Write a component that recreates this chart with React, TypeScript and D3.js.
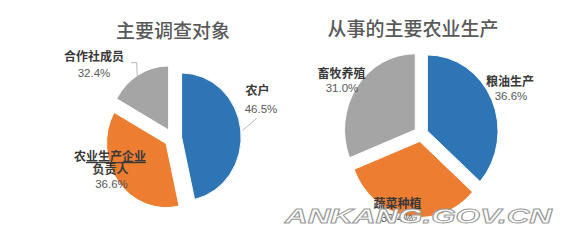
import React from 'react';
import * as d3 from 'd3';

// ---- data ----
const leftTitle = '主要调查对象';
const leftCategories = ['农户', '农业生产企业负责人', '合作社成员'];
// slice sizes as drawn in the picture (the printed labels do not sum to 100)
const leftShares = [46.5, 36.6, 16.9];
const leftLabels = ['46.5%', '36.6%', '32.4%'];

const rightTitle = '从事的主要农业生产';
const rightCategories = ['粮油生产', '蔬菜种植', '畜牧养殖'];
const rightValues = [36.6, 32.4, 31.0];
const rightLabels = ['36.6%', '32.4%', '31.0%'];

const colors = ['#2E75B6', '#ED7D31', '#A5A5A5'];
const watermark = 'ANKANG.GOV.CN';

type PieProps = {
  values: number[];
  cx: number;
  cy: number;
  r: number;
  explode: number;
  sx: number;
};

function Pie({ values, cx, cy, r, explode, sx }: PieProps) {
  const pie = d3.pie<number>().sort(null).value((d) => d).startAngle(0).endAngle(2 * Math.PI);
  const arcs = pie(values);
  const arc = d3.arc<d3.PieArcDatum<number>>().innerRadius(0).outerRadius(r);
  return (
    <g transform={`translate(${cx},${cy}) scale(${sx},1)`}>
      {arcs.map((a, i) => {
        const mid = (a.startAngle + a.endAngle) / 2;
        const dx = Math.sin(mid) * explode;
        const dy = -Math.cos(mid) * explode;
        return (
          <path
            key={i}
            d={arc(a) || ''}
            transform={`translate(${dx},${dy})`}
            fill={colors[i]}
            stroke="#fff"
            strokeWidth={1}
          />
        );
      })}
    </g>
  );
}

const catStyle: React.CSSProperties = {
  fontFamily: '"Noto Sans CJK SC", sans-serif',
  fontWeight: 700,
  fontSize: 12,
  fill: '#3a3a3a',
};
const pctStyle: React.CSSProperties = {
  fontFamily: '"Liberation Sans", Arial, sans-serif',
  fontSize: 11.5,
  fill: '#595959',
};
const titleStyle: React.CSSProperties = {
  fontFamily: '"Noto Sans CJK SC", sans-serif',
  fontWeight: 500,
  fontSize: 19,
  fill: '#595959',
};

export default function App() {
  return (
    <svg
      width={573}
      height={246}
      style={{ position: 'absolute', left: 0, top: 0, background: '#fff' }}
    >
      <rect width={573} height={246} fill="#fff" />
      {/* titles */}
      <text x={173} y={38} textAnchor="middle" style={titleStyle}>{leftTitle}</text>
      <text x={413} y={36} textAnchor="middle" style={titleStyle}>{rightTitle}</text>

      {/* left pie */}
      <Pie values={leftShares} cx={173} cy={138} r={64} explode={9.3} sx={0.93} />
      {/* leader lines */}
      <polyline points="131,62.7 136.7,62.7 137.3,78.5" fill="none" stroke="#a6a6a6" strokeWidth={0.8} />
      <line x1={256.7} y1={118.3} x2={242.3} y2={130.7} stroke="#a6a6a6" strokeWidth={0.8} />

      <text x={257.5} y={95} textAnchor="middle" style={catStyle}>{leftCategories[0]}</text>
      <text x={261} y={113} textAnchor="middle" style={pctStyle}>{leftLabels[0]}</text>

      <text x={110} y={161} textAnchor="middle" style={catStyle}>
        {leftCategories[1].slice(0, 1)}
        <tspan textDecoration="underline">{leftCategories[1].slice(1, 6)}</tspan>
      </text>
      <text x={110.5} y={174} textAnchor="middle" style={catStyle}>{leftCategories[1].slice(6)}</text>
      <text x={111.5} y={188} textAnchor="middle" style={pctStyle}>{leftLabels[1]}</text>

      <text x={94} y={61} textAnchor="middle" style={catStyle}>{leftCategories[2]}</text>
      <text x={94} y={77} textAnchor="middle" style={pctStyle}>{leftLabels[2]}</text>

      {/* right pie */}
      <Pie values={rightValues} cx={421} cy={134} r={76} explode={7.5} sx={0.93} />
      <text x={510} y={86} textAnchor="middle" style={catStyle}>{rightCategories[0]}</text>
      <text x={511} y={100} textAnchor="middle" style={pctStyle}>{rightLabels[0]}</text>
      <text x={397.5} y={208} textAnchor="middle" style={catStyle}>{rightCategories[1]}</text>
      <text x={397} y={222} textAnchor="middle" style={pctStyle}>{rightLabels[1]}</text>
      <text x={341.5} y={78} textAnchor="middle" style={catStyle}>{rightCategories[2]}</text>
      <text x={342} y={92} textAnchor="middle" style={pctStyle}>{rightLabels[2]}</text>

      {/* watermark */}
      <text
        x={285}
        y={223}
        textLength={267}
        lengthAdjust="spacingAndGlyphs"
        style={{
          fontFamily: '"Liberation Sans", Arial, sans-serif',
          fontWeight: 700,
          fontStyle: 'italic',
          fontSize: 21,
          fill: '#fff',
          stroke: '#9a9a9a',
          strokeWidth: 0.9,
        }}
      >
        {watermark}
      </text>
    </svg>
  );
}
